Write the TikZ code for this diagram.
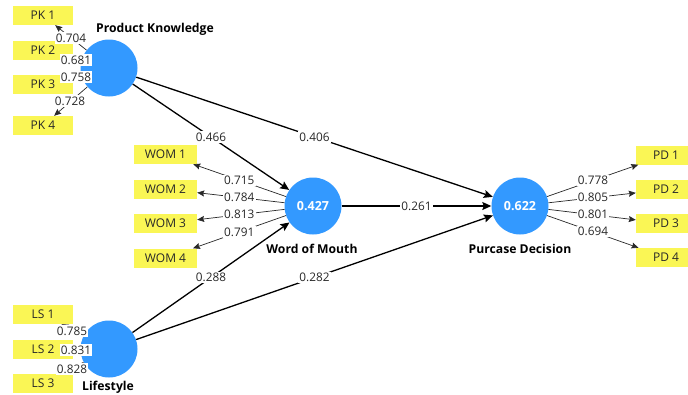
\documentclass[tikz,border=0pt]{standalone}
\usepackage{fontspec}
\setmainfont{Open Sans}
\usetikzlibrary{arrows.meta}
\definecolor{lvblue}{RGB}{51,153,255}
\definecolor{indyel}{RGB}{250,246,85}
\definecolor{txtgray}{RGB}{40,40,40}
\begin{document}
\begin{tikzpicture}[x=1pt,y=-1pt,
  lv/.style={circle,fill=lvblue,minimum size=57pt,inner sep=0pt,text=white,font=\fontsize{12.5}{13}\selectfont\bfseries},
  ind/.style={rectangle,fill=indyel,minimum width=60pt,minimum height=19pt,inner sep=0pt,text=txtgray,font=\fontsize{12}{13}\selectfont},
  ttl/.style={font=\fontsize{12.2}{13}\selectfont\bfseries,text=black,inner sep=0pt},
  lbl/.style={fill=white,inner sep=1.3pt,text=txtgray,font=\fontsize{11.8}{12}\selectfont},
  struct/.style={line width=1.3pt,-{Stealth[length=9pt,width=8pt,inset=1.5pt]}},
  outer/.style={line width=0.7pt,draw=txtgray,-{Stealth[length=7pt,width=6pt,inset=1pt]}}]
\clip (0,0) rectangle (688,394);
\fill[white] (0,0) rectangle (688,394);
% indicators
\node[ind] (PK1) at (43,15.5) {PK 1};
\node[ind] (PK2) at (43,50.5) {PK 2};
\node[ind] (PK3) at (43,84.5) {PK 3};
\node[ind] (PK4) at (43,125.5) {PK 4};
\node[ind,minimum width=63pt] (WOM1) at (165.5,154.5) {WOM 1};
\node[ind,minimum width=63pt] (WOM2) at (165.5,189) {WOM 2};
\node[ind,minimum width=63pt] (WOM3) at (165.5,223.5) {WOM 3};
\node[ind,minimum width=63pt] (WOM4) at (165.5,258) {WOM 4};
\node[ind] (PD1) at (666,155) {PD 1};
\node[ind] (PD2) at (666,189.5) {PD 2};
\node[ind] (PD3) at (666,223.5) {PD 3};
\node[ind] (PD4) at (666,257.5) {PD 4};
\node[ind] (LS1) at (43,314.5) {LS 1};
\node[ind] (LS2) at (43,349.5) {LS 2};
\node[ind] (LS3) at (43,383.5) {LS 3};
% latent variables
\node[lv] (PK) at (109,68) {};
\node[lv] (WOM) at (313,206) {0.427};
\node[lv] (PD) at (520,206) {0.622};
\node[lv] (LS) at (109,349) {};
% titles
\node[ttl] (tPK) at (155,29) {Product Knowledge};
\node[ttl] (tWOM) at (312,249) {Word of Mouth};
\node[ttl] (tPD) at (520,249) {Purcase Decision};
\node[ttl] (tLS) at (108,387) {Lifestyle};
% structural paths
\draw[struct] (PK) -- (WOM);
\draw[struct] (PK) -- (PD);
\draw[struct] (WOM) -- (PD);
\draw[struct] (LS) -- (WOM);
\draw[struct] (LS) -- (PD);
% outer paths
\foreach \i in {1,2,3,4} {
  \draw[outer] (PK) -- (PK\i);
  \draw[outer] (WOM) -- (WOM\i);
  \draw[outer] (PD) -- (PD\i);
}
\foreach \i in {1,2,3} {
  \draw[outer] (LS) -- (LS\i);
}
% structural labels
\path (PK.center) -- (WOM.center) node[midway,lbl] (c1) {0.466};
\path (PK.center) -- (PD.center) node[midway,lbl] (c2) {0.406};
\path (WOM.center) -- (PD.center) node[midway,lbl] (c3) {0.261};
\path (LS.center) -- (WOM.center) node[midway,lbl] (c4) {0.288};
\path (LS.center) -- (PD.center) node[midway,lbl] (c5) {0.282};
% outer labels
\node[lbl] (o1) at (71,38) {0.704};
\node[lbl] (o2) at (76,60) {0.681};
\node[lbl] (o3) at (76,77) {0.758};
\node[lbl] (o4) at (70,101) {0.728};
\path (WOM.center) -- (WOM1.center) node[midway,lbl] (o5) {0.715};
\path (WOM.center) -- (WOM2.center) node[midway,lbl] (o6) {0.784};
\path (WOM.center) -- (WOM3.center) node[midway,lbl] (o7) {0.813};
\path (WOM.center) -- (WOM4.center) node[midway,lbl] (o8) {0.791};
\path (PD.center) -- (PD1.center) node[midway,lbl] (o9) {0.778};
\path (PD.center) -- (PD2.center) node[midway,lbl] (o10) {0.805};
\path (PD.center) -- (PD3.center) node[midway,lbl] (o11) {0.801};
\path (PD.center) -- (PD4.center) node[midway,lbl] (o12) {0.694};
\node[lbl] (o13) at (72,331) {0.785};
\node[lbl] (o14) at (76,350) {0.831};
\node[lbl] (o15) at (72,369) {0.828};
\end{tikzpicture}
\end{document}
